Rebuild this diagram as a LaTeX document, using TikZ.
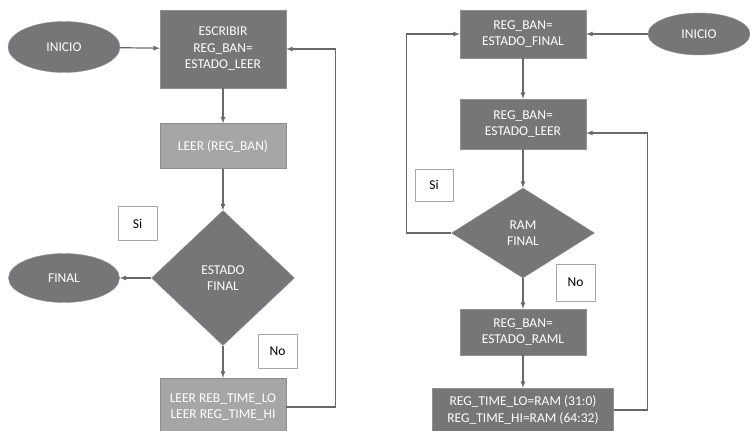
\documentclass[tikz,border=0pt]{standalone}
\usepackage{fontspec}
\setmainfont{Carlito}
\usetikzlibrary{shapes.geometric,positioning}

\definecolor{oscuro}{RGB}{118,118,120}
\definecolor{claro}{RGB}{166,166,168}
\definecolor{linea}{RGB}{105,105,107}

\begin{document}
\begin{tikzpicture}[x=1pt,y=-1pt]

			\tikzstyle{bloque}=[fill=oscuro,draw=oscuro!80,text=white,
				minimum width=126pt,inner sep=0pt,
				align=center,font=\fontsize{13.5}{16.5}\selectfont]
			\tikzstyle{bloqueclaro}=[bloque,fill=claro,draw=claro!85!black]
			\tikzstyle{inicio}=[ellipse,fill=oscuro,draw=oscuro!80,text=white,
				inner sep=0pt,font=\fontsize{13.5}{16.5}\selectfont]
			\tikzstyle{decision}=[diamond,fill=oscuro,draw=oscuro!80,text=white,
				inner sep=0pt,minimum width=143pt,
				align=center,font=\fontsize{13.5}{16.5}\selectfont]
			\tikzstyle{etiqueta}=[fill=white,draw=gray!70,
				minimum width=39pt,minimum height=34pt,inner sep=0pt,
				font=\fontsize{13.5}{16.5}\selectfont]
			\tikzstyle{flecha}=[draw=linea,line width=1.2pt,-latex]

			\useasboundingbox (0,0) rectangle (750,431);

			% izquierda
			\node[bloque,minimum height=78pt]	(esc)	at (223,49)	{ESCRIBIR\\REG\_BAN=\\ESTADO\_LEER};
			\node[inicio,minimum width=112pt,minimum height=51pt]	(ini)	at (64,47)	{INICIO};
			\node[bloqueclaro,minimum height=45pt,below of=esc,node distance=97pt]	(leer)	{LEER (REG\_BAN)};
			\node[decision,minimum height=135pt,below of=leer,node distance=132pt]	(est)	{ESTADO\\FINAL};
			\node[inicio,minimum width=111pt,minimum height=49pt]	(fin)	at (64,278)	{FINAL};
			\node[bloqueclaro,minimum height=58pt,below of=est,node distance=129pt]	(tiempo)	{LEER REB\_TIME\_LO\\LEER REG\_TIME\_HI};
			\node[etiqueta]	(si)	at (137.5,223.5)	{Si};
			\node[etiqueta]	(no)	at (277.5,351)	{No};

			\draw[flecha] (ini) -- (esc);
			\draw[flecha] (esc) -- (leer);
			\draw[flecha] (leer) -- (est);
			\draw[flecha] (est) -- (fin);
			\draw[flecha] (est) -- (tiempo);
			\draw[flecha] (tiempo.east) -- ++(49,0) |- (esc.east);

			% derecha
			\node[bloque,minimum height=48pt]	(final)	at (523,34)	{REG\_BAN=\\ESTADO\_FINAL};
			\node[inicio,minimum width=102pt,minimum height=42pt]	(iniB)	at (699,34)	{INICIO};
			\node[bloque,minimum height=50pt,below of=final,node distance=90pt]	(leerB)	{REG\_BAN=\\ESTADO\_LEER};
			\node[decision,minimum height=90pt,below of=leerB,node distance=109pt]	(ram)	{RAM\\FINAL};
			\node[bloque,minimum height=46pt,below of=ram,node distance=99pt]	(raml)	{REG\_BAN=\\ESTADO\_RAML};
			\node[bloque,minimum width=181pt,minimum height=44pt,below of=raml,node distance=78pt]	(tiempoB)	{REG\_TIME\_LO=RAM (31:0)\\REG\_TIME\_HI=RAM (64:32)};
			\node[etiqueta,minimum width=38pt,minimum height=32pt]	(siB)	at (434,185)	{Si};
			\node[etiqueta,minimum height=37pt]	(noB)	at (575.5,282.5)	{No};
			\coordinate (entrada) at ([yshift=-9pt]leerB.east);

			\draw[flecha] (iniB) -- (final);
			\draw[flecha] (final) -- (leerB);
			\draw[flecha] (leerB) -- (ram);
			\draw[flecha] (ram) -- (raml);
			\draw[flecha] (raml) -- (tiempoB);
			\draw[flecha] (ram.west) -- ++(-45,0) |- (final.west);
			\draw[flecha] (tiempoB.east) -- ++(34,0) |- (entrada);

\end{tikzpicture}
\end{document}
